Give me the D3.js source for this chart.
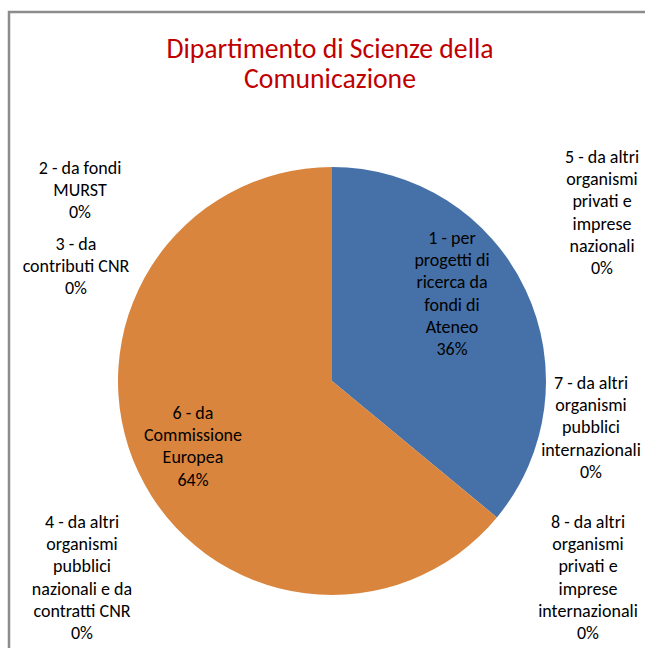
<!DOCTYPE html>
<html>
<head>
<meta charset="utf-8">
<script src="https://cdn.jsdelivr.net/npm/d3@7"></script>
<style>
  body { margin: 0; background: #fff; }
  text { font-family: Carlito, "Liberation Sans Narrow", "Open Sans", sans-serif; }
</style>
</head>
<body>
<div id="chart"></div>
<script>
// slices in Excel order, clockwise from 12 o'clock
const categories = [
  "1 - per progetti di ricerca da fondi di Ateneo",
  "2 - da fondi MURST",
  "3 - da contributi CNR",
  "4 - da altri organismi pubblici nazionali e da contratti CNR",
  "5 - da altri organismi privati e imprese nazionali",
  "6 - da Commissione Europea",
  "7 - da altri organismi pubblici internazionali",
  "8 - da altri organismi privati e imprese internazionali"
];
const values = [36, 0, 0, 0, 0, 64, 0, 0];
const percentLabels = ["36%", "0%", "0%", "0%", "0%", "64%", "0%", "0%"];
// how each label wraps
const labelLines = [
  ["1 - per", "progetti di", "ricerca da", "fondi di", "Ateneo"],
  ["2 - da fondi", "MURST"],
  ["3 - da", "contributi CNR"],
  ["4 - da altri", "organismi", "pubblici", "nazionali e da", "contratti CNR"],
  ["5 - da altri", "organismi", "privati e", "imprese", "nazionali"],
  ["6 - da", "Commissione", "Europea"],
  ["7 - da altri", "organismi", "pubblici", "internazionali"],
  ["8 - da altri", "organismi", "privati e", "imprese", "internazionali"]
];
const sliceColors = ["#4671a8", "#4671a8", "#4671a8", "#4671a8", "#4671a8", "#d9853e", "#4671a8", "#4671a8"];

// label placement (x centre, first baseline)
const labelPos = [
  [452, 244], [80, 174], [76, 250], [82, 528],
  [602, 163], [193, 419], [591, 389], [588, 528]
];

const W = 645, H = 648;
const cx = 332, cy = 381, R = 214;

const svg = d3.select("#chart").append("svg")
  .attr("width", W).attr("height", H);

// chart area border (only left/top visible in the crop)
svg.append("path")
  .attr("d", `M9,${H} L9,12 L${W},12`)
  .attr("fill", "none")
  .attr("stroke", "#8c8c8c")
  .attr("stroke-width", 2.5);

// title
const title = svg.append("text")
  .attr("text-anchor", "middle")
  .attr("fill", "#c00000")
  .style("font-size", "27.7px");
title.append("tspan").attr("x", 330).attr("y", 58).text("Dipartimento di Scienze della");
title.append("tspan").attr("x", 330).attr("dy", 30).text("Comunicazione");

const pie = d3.pie().sort(null).value(d => d)(values);
const arc = d3.arc().innerRadius(0).outerRadius(R);

const g = svg.append("g").attr("transform", `translate(${cx},${cy})`);
g.selectAll("path")
  .data(pie.filter(d => d.value > 0))
  .join("path")
  .attr("d", arc)
  .attr("fill", d => sliceColors[d.index]);

// data labels
const lh = 22.2;
categories.forEach((c, i) => {
  const t = svg.append("text")
    .attr("text-anchor", "middle")
    .attr("fill", "#000")
    .style("font-size", "18px");
  const lines = labelLines[i].concat([percentLabels[i]]);
  lines.forEach((l, j) => {
    t.append("tspan")
      .attr("x", labelPos[i][0])
      .attr("y", labelPos[i][1] + j * lh)
      .text(l);
  });
});
</script>
</body>
</html>
